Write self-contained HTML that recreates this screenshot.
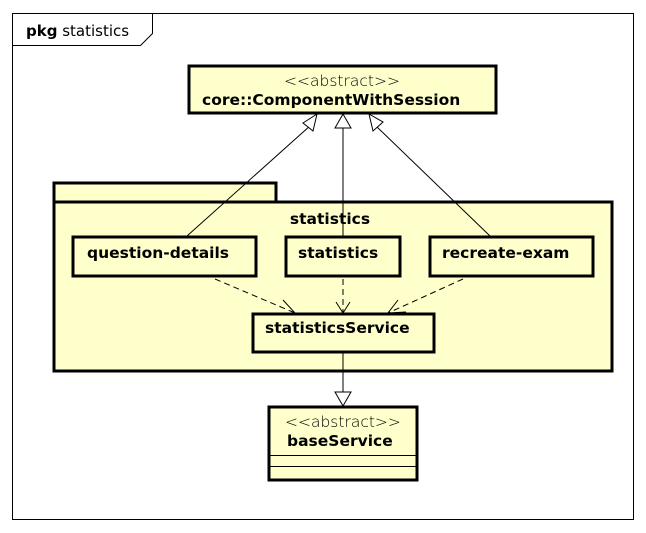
<!DOCTYPE html>
<html><head><style>body{margin:0;background:#fff}svg{display:block}</style></head><body>
<svg width="646" height="533" xmlns="http://www.w3.org/2000/svg" font-family="DejaVu Sans, sans-serif">
<rect x="0" y="0" width="646" height="533" fill="#fff"/>
<rect x="12.5" y="13.5" width="621" height="506" fill="#fff" stroke="#000" stroke-width="1"/>
<path d="M12.5 45.5 H140.5 L152.5 33.5 V13.5" fill="none" stroke="#000"/>
<text x="26" y="36" font-size="15"><tspan font-weight="bold">pkg</tspan> statistics</text>
<!-- top class -->
<rect x="189" y="66" width="307" height="47" fill="#ffffcc" stroke="#000" stroke-width="3"/>
<text x="342" y="86" font-size="15.5" text-anchor="middle" font-weight="200" fill="#000">&lt;&lt;abstract&gt;&gt;</text>
<text x="202" y="105" font-size="15.5" font-weight="bold">core::ComponentWithSession</text>
<!-- package -->
<rect x="54" y="183" width="222" height="19" fill="#ffffcc" stroke="#000" stroke-width="3"/>
<rect x="54" y="202" width="558" height="169" fill="#ffffcc" stroke="#000" stroke-width="3"/>
<text x="330" y="224" font-size="15.5" font-weight="bold" text-anchor="middle">statistics</text>
<rect x="73" y="237" width="183" height="39" fill="#ffffcc" stroke="#000" stroke-width="3"/>
<text x="87" y="258" font-size="15.5" font-weight="bold">question-details</text>
<rect x="286" y="237" width="114" height="39" fill="#ffffcc" stroke="#000" stroke-width="3"/>
<text x="298" y="258" font-size="15.5" font-weight="bold">statistics</text>
<rect x="430" y="237" width="163" height="39" fill="#ffffcc" stroke="#000" stroke-width="3"/>
<text x="442" y="258" font-size="15.5" font-weight="bold">recreate-exam</text>
<rect x="253" y="314" width="181" height="38" fill="#ffffcc" stroke="#000" stroke-width="3"/>
<text x="265" y="333" font-size="15.5" font-weight="bold">statisticsService</text>
<!-- base service -->
<rect x="269" y="407" width="148" height="73" fill="#ffffcc" stroke="#000" stroke-width="3"/>
<text x="285" y="427" font-size="15.5" font-weight="200" fill="#000">&lt;&lt;abstract&gt;&gt;</text>
<text x="287" y="446" font-size="15.5" font-weight="bold">baseService</text>
<line x1="269" y1="455.5" x2="417" y2="455.5" stroke="#000"/>
<line x1="269" y1="466.5" x2="417" y2="466.5" stroke="#000"/>
<!-- generalizations -->
<g stroke="#000" fill="none">
<line x1="187" y1="236" x2="311" y2="125"/>
<polygon points="317,114 303,123 313,131" fill="#fff"/>
<line x1="343" y1="236" x2="343" y2="128"/>
<polygon points="343,114 335,128 351,128" fill="#fff"/>
<line x1="490" y1="236" x2="377" y2="127"/>
<polygon points="369,114 373,131 383,122" fill="#fff"/>
<line x1="343" y1="352" x2="343" y2="392"/>
<polygon points="343,406 335,392 351,392" fill="#fff"/>
<g stroke-dasharray="6,4">
<line x1="215" y1="279" x2="295" y2="313"/>
<line x1="343" y1="279" x2="343" y2="313"/>
<line x1="463" y1="279" x2="388" y2="313"/>
</g>
<polyline points="283,300 295,313 277,313"/>
<polyline points="336,302 343,313 350,302"/>
<polyline points="398,300 388,313 406,312"/>
</g>
</svg>
</body></html>
